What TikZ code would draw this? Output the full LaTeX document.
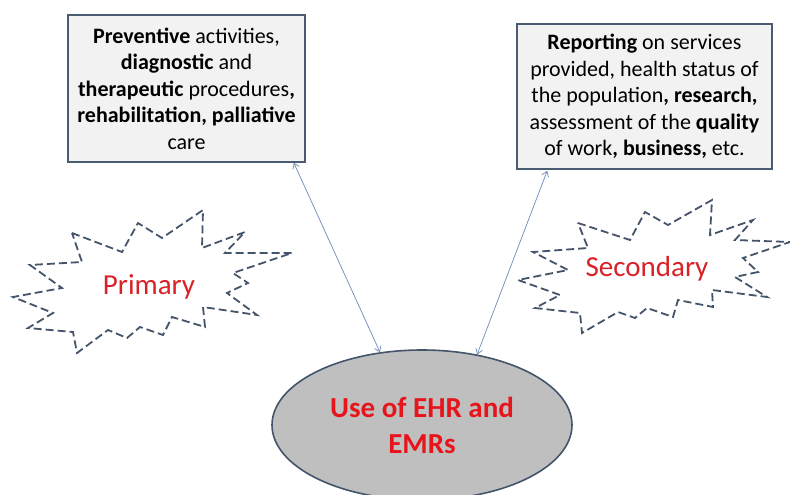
\documentclass[tikz,border=0pt]{standalone}
\usepackage{fontspec}
\setmainfont{Carlito}
\usetikzlibrary{arrows.meta,shapes.geometric,calc}
\definecolor{boxline}{HTML}{4A5C72}
\definecolor{boxfill}{HTML}{F2F2F2}
\definecolor{burstline}{HTML}{44546A}
\definecolor{burstred}{HTML}{DA2128}
\definecolor{ellred}{HTML}{E8141B}
\definecolor{ellfill}{HTML}{BFBFBF}
\definecolor{ellline}{HTML}{44546A}
\definecolor{arrowcol}{HTML}{6D8AB8}
\tikzset{
  infobox/.style={draw=boxline, line width=1.6pt, fill=boxfill, inner sep=0pt,
    align=center, font=\fontsize{22}{26.5}\selectfont},
  burst/.style={draw=burstline, line width=1.8pt, dash pattern=on 8pt off 4pt, line join=miter},
  bursttext/.style={text=burstred, font=\fontsize{29}{34}\selectfont, inner sep=0pt},
  ellnode/.style={ellipse, draw=ellline, line width=1.6pt, fill=ellfill, inner sep=0pt,
    minimum width=300pt, minimum height=150pt, align=center, text=ellred,
    font=\fontsize{29}{36}\selectfont\bfseries},
  conn/.style={draw=arrowcol, line width=0.7pt,
    arrows={Straight Barb[length=5pt,width=7pt]-Straight Barb[length=5pt,width=7pt]}}
}
\begin{document}
\begin{tikzpicture}[x=1pt,y=-1pt]
\useasboundingbox (0,0) rectangle (790,495);
\fill[white] (0,0) rectangle (790,495);

% info boxes
\node[infobox, minimum width=237pt, minimum height=147pt] (lbox) at (186.5,88.5)
  {\textbf{Preventive} activities,\\ \textbf{diagnostic} and\\ \textbf{therapeutic} procedures\textbf{,}\\ \textbf{rehabilitation, palliative}\\ care};
\node[infobox, minimum width=255pt, minimum height=145pt] (rbox) at (644.5,96.5)
  {\textbf{Reporting} on services\\ provided, health status of\\ the population\textbf{, research,}\\ assessment of the \textbf{quality}\\ of work\textbf{, business,} etc.};

% bursts
\draw[burst] (72,233) -- (122,252) -- (138,223) -- (162,238) -- (203,210) -- (202,248)
  -- (245,232) -- (225,253) -- (292,253) -- (233,273) -- (248,283) -- (227,293)
  -- (257,315) -- (203,307) -- (205,327) -- (172,317) -- (163,335) -- (140,327)
  -- (127,338) -- (108,330) -- (77,353) -- (73,332) -- (28,328) -- (53,313)
  -- (13,297) -- (62,288) -- (30,265) -- (82,262) -- cycle;
\node[bursttext] (prim) at (149,287) {Primary};

\draw[burst] (578,223) -- (630,240) -- (645,212) -- (668,225) -- (712,200) -- (710,235)
  -- (753,220) -- (735,240) -- (790,242) -- (743,258) -- (758,272) -- (735,277)
  -- (767,297) -- (712,290) -- (713,307) -- (678,300) -- (673,317) -- (647,308)
  -- (635,318) -- (618,312) -- (582,333) -- (580,313) -- (535,308) -- (560,295)
  -- (518,280) -- (568,270) -- (533,252) -- (588,248) -- cycle;
\node[bursttext] (sec) at (647,269) {Secondary};

% ellipse
\node[ellnode] (ell) at (422,425) {Use of EHR and\\ EMRs};

% connectors
\draw[conn] ($(lbox.south east)+(-12,0)$) -- (ell.120);
\draw[conn] ($(rbox.south west)+(31,1)$) -- (ell.52);
\end{tikzpicture}
\end{document}
